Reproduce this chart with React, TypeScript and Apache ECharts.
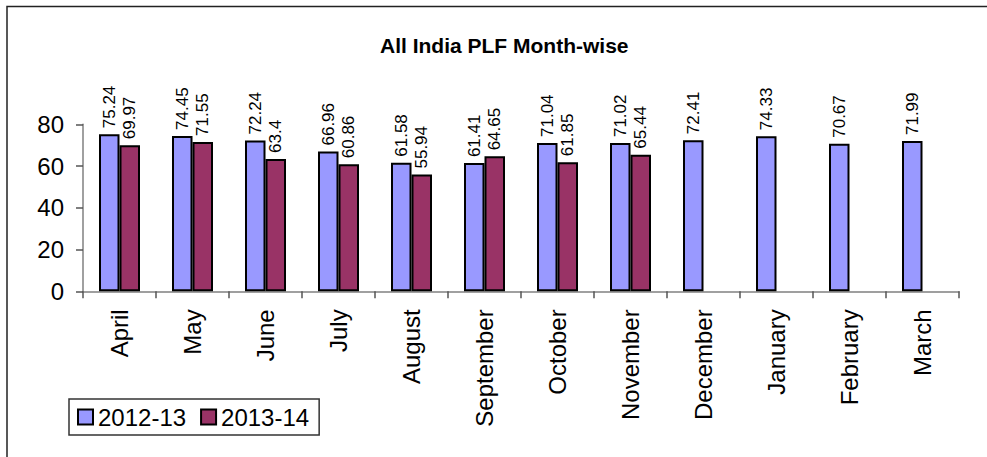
import React, { useEffect, useRef } from "react";
import * as echarts from "echarts";

const months = ["April", "May", "June", "July", "August", "September", "October", "November", "December", "January", "February", "March"];
const plf2012 = [75.24, 74.45, 72.24, 66.96, 61.58, 61.41, 71.04, 71.02, 72.41, 74.33, 70.67, 71.99];
const plf2013 = [69.97, 71.55, 63.4, 60.86, 55.94, 64.65, 61.85, 65.44, null, null, null, null];
const yTicks = [0, 20, 40, 60, 80];

const FONT = "'Liberation Sans', Arial, sans-serif";

export default function App() {
  const ref = useRef<HTMLDivElement>(null);
  useEffect(() => {
    if (!ref.current) return;
    const chart = echarts.init(ref.current, null, { renderer: "svg" });
    const label = {
      show: true,
      position: ["50%", -6] as any,
      rotate: 90,
      align: "left" as const,
      verticalAlign: "middle" as const,
      fontSize: 17,
      color: "#000",
      fontFamily: FONT,
    };
    chart.setOption({
      animation: false,
      textStyle: { fontFamily: FONT },
      title: {
        text: "All India PLF Month-wise",
        left: 375,
        top: 30,
        textStyle: { fontSize: 21, fontWeight: "bold", color: "#000", fontFamily: FONT },
      },
      graphic: [
        {
          type: "rect",
          shape: { x: 7, y: 6.5, width: 1100, height: 600 },
          style: { fill: "none", stroke: "#222", lineWidth: 1.5 },
          silent: true,
        },
      ],
      legend: {
        left: 69,
        top: 399,
        orient: "horizontal",
        padding: [6, 10, 6, 8],
        itemWidth: 15,
        itemHeight: 15,
        itemGap: 14,
        borderColor: "#333",
        borderWidth: 1.5,
        borderRadius: 0,
        icon: "rect",
        textStyle: { fontSize: 24, color: "#000", fontFamily: FONT },
        data: ["2012-13", "2013-14"],
      },
      grid: { left: 83, right: 28, top: 124.3, bottom: 165.7, containLabel: false },
      xAxis: {
        type: "category",
        data: months,
        axisLine: { lineStyle: { color: "#808080", width: 1.5 } },
        axisTick: { show: true, length: 7, lineStyle: { color: "#555", width: 1.5 } },
        axisLabel: { rotate: 90, fontSize: 24, color: "#000", margin: 18, fontFamily: FONT, interval: 0 },
      },
      yAxis: {
        type: "value",
        min: yTicks[0],
        max: yTicks[yTicks.length - 1],
        interval: 20,
        splitLine: { show: false },
        axisLine: { show: true, lineStyle: { color: "#808080", width: 1.5 } },
        axisTick: { show: true, length: 7, lineStyle: { color: "#555", width: 1.5 } },
        axisLabel: { fontSize: 24, color: "#000", margin: 19, fontFamily: FONT },
      },
      series: [
        {
          name: "2012-13",
          type: "bar",
          data: plf2012,
          barWidth: 20.5,
          barGap: "0%",
          itemStyle: { color: "#9999FF", borderColor: "#000", borderWidth: 2 },
          label,
        },
        {
          name: "2013-14",
          type: "bar",
          data: plf2013,
          barWidth: 20.5,
          itemStyle: { color: "#993366", borderColor: "#000", borderWidth: 2 },
          label,
        },
      ],
    });
    return () => chart.dispose();
  }, []);
  return (
    <div
      ref={ref}
      style={{ position: "fixed", left: 0, top: 0, width: 987, height: 457, background: "#fff" }}
    />
  );
}
